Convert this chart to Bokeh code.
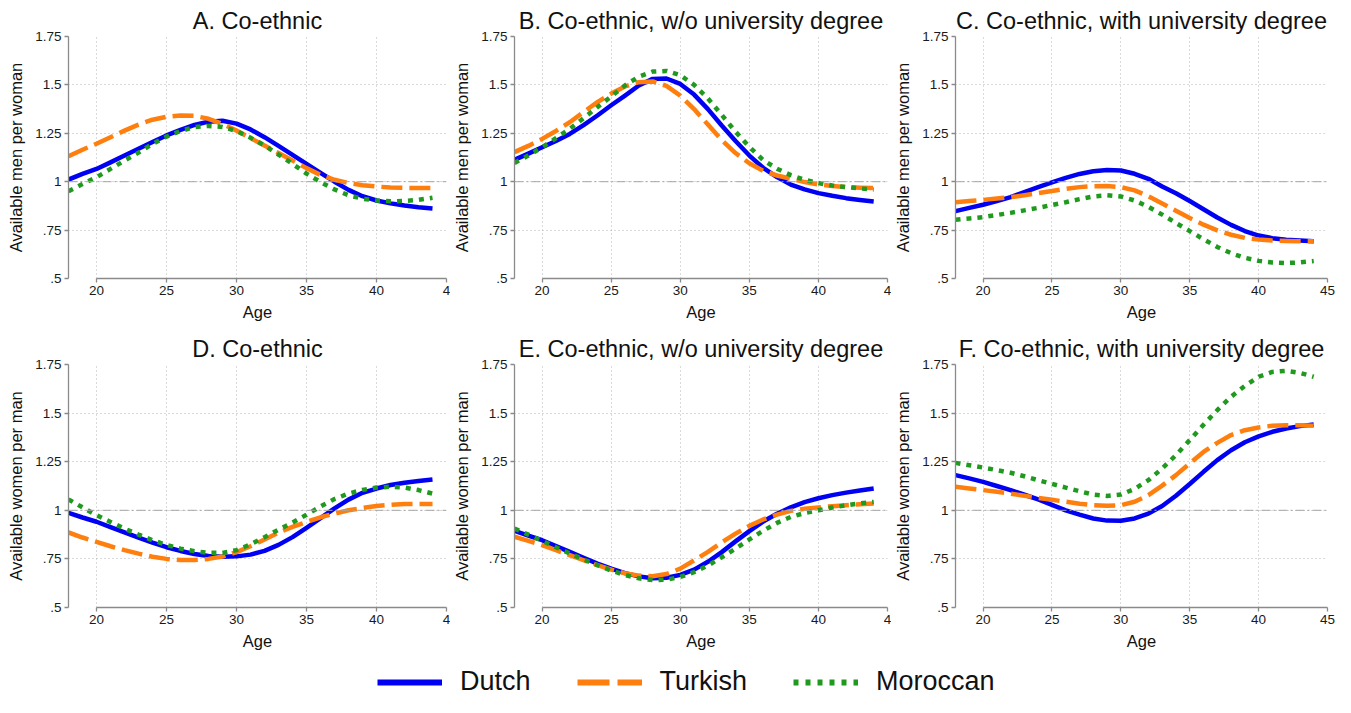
from bokeh.plotting import figure
from bokeh.models import Range1d, FixedTicker, Span, Legend, LegendItem
from bokeh.layouts import column, row
from bokeh.embed import file_html
from bokeh.resources import INLINE

FONT = "Liberation Sans"

age = [18, 19, 20, 21, 22, 23, 24, 25, 26, 27, 28, 29, 30, 31,
       32, 33, 34, 35, 36, 37, 38, 39, 40, 41, 42, 43, 44]

# Panel A: Co-ethnic (men per woman)
a_dutch = [1.011, 1.040, 1.066, 1.100, 1.135, 1.170, 1.205, 1.239, 1.268, 1.293, 1.310, 1.315, 1.300, 1.270,
           1.230, 1.185, 1.138, 1.092, 1.045, 1.000, 0.958, 0.925, 0.903, 0.888, 0.877, 0.868, 0.862]
a_turkish = [1.132, 1.165, 1.196, 1.230, 1.264, 1.295, 1.320, 1.335, 1.342, 1.340, 1.325, 1.298, 1.264, 1.225,
             1.187, 1.148, 1.110, 1.070, 1.035, 1.010, 0.993, 0.982, 0.975, 0.970, 0.968, 0.967, 0.967]
a_moroccan = [0.951, 0.988, 1.023, 1.066, 1.109, 1.150, 1.195, 1.233, 1.262, 1.282, 1.288, 1.283, 1.262, 1.227,
              1.187, 1.140, 1.092, 1.042, 0.998, 0.960, 0.930, 0.912, 0.903, 0.899, 0.900, 0.906, 0.917]

# Panel B: Co-ethnic, w/o university degree (men per woman)
b_dutch = [1.113, 1.145, 1.178, 1.210, 1.247, 1.292, 1.342, 1.395, 1.445, 1.497, 1.531, 1.533, 1.505, 1.450,
           1.375, 1.290, 1.210, 1.135, 1.072, 1.024, 0.985, 0.960, 0.941, 0.927, 0.915, 0.906, 0.898]
b_turkish = [1.153, 1.185, 1.221, 1.262, 1.307, 1.360, 1.411, 1.455, 1.492, 1.514, 1.518, 1.495, 1.445, 1.375,
             1.295, 1.215, 1.148, 1.095, 1.056, 1.032, 1.015, 0.998, 0.986, 0.978, 0.972, 0.969, 0.967]
b_moroccan = [1.097, 1.135, 1.178, 1.225, 1.273, 1.328, 1.385, 1.440, 1.497, 1.543, 1.569, 1.572, 1.550, 1.500,
              1.430, 1.345, 1.258, 1.180, 1.112, 1.067, 1.034, 1.010, 0.993, 0.980, 0.972, 0.965, 0.960]

# Panel C: Co-ethnic, with university degree (men per woman)
c_dutch = [0.848, 0.865, 0.881, 0.900, 0.920, 0.946, 0.972, 0.996, 1.020, 1.040, 1.054, 1.061, 1.058, 1.041,
           1.015, 0.975, 0.940, 0.900, 0.858, 0.815, 0.777, 0.745, 0.722, 0.708, 0.700, 0.696, 0.693]
c_turkish = [0.894, 0.900, 0.906, 0.913, 0.920, 0.930, 0.941, 0.952, 0.963, 0.972, 0.977, 0.978, 0.972, 0.955,
             0.925, 0.888, 0.850, 0.813, 0.778, 0.749, 0.726, 0.710, 0.701, 0.696, 0.694, 0.693, 0.693]
c_moroccan = [0.803, 0.810, 0.817, 0.828, 0.839, 0.852, 0.865, 0.880, 0.894, 0.910, 0.924, 0.930, 0.924, 0.903,
              0.870, 0.830, 0.787, 0.745, 0.703, 0.663, 0.631, 0.607, 0.591, 0.583, 0.580, 0.583, 0.590]

# Panel D: Co-ethnic (women per man)
d_dutch = [0.987, 0.963, 0.941, 0.913, 0.886, 0.860, 0.834, 0.810, 0.791, 0.775, 0.765, 0.761, 0.763, 0.772,
           0.791, 0.822, 0.862, 0.910, 0.960, 1.010, 1.055, 1.090, 1.112, 1.130, 1.142, 1.151, 1.158]
d_turkish = [0.886, 0.860, 0.838, 0.815, 0.795, 0.777, 0.761, 0.750, 0.744, 0.744, 0.750, 0.762, 0.785, 0.815,
             0.850, 0.885, 0.915, 0.940, 0.964, 0.983, 1.000, 1.012, 1.022, 1.028, 1.032, 1.033, 1.033]
d_moroccan = [1.056, 1.015, 0.975, 0.940, 0.906, 0.875, 0.846, 0.822, 0.803, 0.790, 0.781, 0.781, 0.795, 0.825,
              0.862, 0.900, 0.937, 0.977, 1.020, 1.058, 1.086, 1.105, 1.117, 1.121, 1.117, 1.104, 1.086]

# Panel E: Co-ethnic, w/o university degree (women per man)
e_dutch = [0.894, 0.870, 0.846, 0.816, 0.786, 0.756, 0.726, 0.700, 0.677, 0.660, 0.650, 0.653, 0.668, 0.695,
           0.735, 0.785, 0.840, 0.893, 0.942, 0.982, 1.015, 1.042, 1.062, 1.078, 1.091, 1.102, 1.112]
e_turkish = [0.864, 0.843, 0.821, 0.795, 0.769, 0.743, 0.718, 0.695, 0.676, 0.664, 0.661, 0.672, 0.700, 0.742,
             0.786, 0.835, 0.880, 0.920, 0.953, 0.978, 0.997, 1.008, 1.015, 1.021, 1.026, 1.031, 1.035]
e_moroccan = [0.906, 0.875, 0.843, 0.810, 0.778, 0.747, 0.718, 0.690, 0.667, 0.650, 0.641, 0.643, 0.657, 0.682,
              0.716, 0.758, 0.803, 0.850, 0.895, 0.935, 0.966, 0.986, 1.000, 1.014, 1.026, 1.036, 1.043]

# Panel F: Co-ethnic, with university degree (women per man)
f_dutch = [1.181, 1.164, 1.146, 1.125, 1.104, 1.080, 1.056, 1.028, 1.000, 0.978, 0.958, 0.947, 0.946, 0.958,
           0.983, 1.022, 1.075, 1.135, 1.198, 1.258, 1.309, 1.350, 1.380, 1.404, 1.421, 1.433, 1.441]
f_turkish = [1.121, 1.112, 1.104, 1.095, 1.086, 1.075, 1.064, 1.054, 1.044, 1.034, 1.026, 1.023, 1.026, 1.044,
             1.078, 1.127, 1.181, 1.241, 1.300, 1.347, 1.387, 1.412, 1.426, 1.435, 1.438, 1.438, 1.435]
f_moroccan = [1.244, 1.232, 1.220, 1.207, 1.193, 1.175, 1.155, 1.136, 1.117, 1.098, 1.081, 1.074, 1.081, 1.110,
              1.155, 1.215, 1.284, 1.361, 1.440, 1.515, 1.584, 1.640, 1.687, 1.712, 1.717, 1.707, 1.687]

x_ticks = [20, 25, 30, 35, 40, 45]
y_ticks = [0.5, 0.75, 1, 1.25, 1.5, 1.75]
y_tick_labels = [".5", ".75", "1", "1.25", "1.5", "1.75"]
series_names = ["Dutch", "Turkish", "Moroccan"]
titles = ["A. Co-ethnic", "B. Co-ethnic, w/o university degree", "C. Co-ethnic, with university degree",
          "D. Co-ethnic", "E. Co-ethnic, w/o university degree", "F. Co-ethnic, with university degree"]
ylabels = ["Available men per woman"] * 3 + ["Available women per man"] * 3
panel_data = [(a_dutch, a_turkish, a_moroccan), (b_dutch, b_turkish, b_moroccan), (c_dutch, c_turkish, c_moroccan),
              (d_dutch, d_turkish, d_moroccan), (e_dutch, e_turkish, e_moroccan), (f_dutch, f_turkish, f_moroccan)]

COLORS = ["#0000f2", "#ff7f0e", "#1f9a1f"]
DASHES = ["solid", "21 7", "5 6"]
LEG_DASHES = ["solid", "32 8", "5 7"]

# per column: (figure width, left border, right border)
COL_GEOM = [(450, 68, 4), (441, 60, 4), (444, 59, 8)]
ROW_GEOM = [(328, 36, 50), (329, 36, 50)]  # (height, top border, bottom border)


def make_panel(i):
    col = i % 3
    rw = i // 3
    width, left, right = COL_GEOM[col]
    height, top, bottom = ROW_GEOM[rw]
    p = figure(width=width, height=height, x_range=Range1d(18, 45), y_range=Range1d(0.5, 1.75),
               output_backend="svg", toolbar_location=None, tools="",
               min_border_left=left, min_border_right=right, min_border_top=top, min_border_bottom=bottom)
    p.outline_line_color = None
    p.background_fill_color = "white"
    p.border_fill_color = "white"

    p.title.text = titles[i]
    p.title.text_font = FONT
    p.title.text_font_size = "23.5px"
    p.title.text_font_style = "normal"
    p.title.text_color = "#111111"
    p.title.align = "center"
    p.title.standoff = 6

    p.xaxis.ticker = FixedTicker(ticks=x_ticks)
    p.xaxis.bounds = (20, 45)
    if col != 2:
        p.xaxis.major_label_overrides = {45: "4"}
    p.yaxis.ticker = FixedTicker(ticks=y_ticks)
    p.yaxis.major_label_overrides = dict(zip(y_ticks, y_tick_labels))
    p.xaxis.axis_label = "Age"
    p.yaxis.axis_label = ylabels[i]
    for ax in (p.xaxis, p.yaxis):
        ax.axis_line_color = "#8a8a8a"
        ax.axis_line_width = 1.3
        ax.major_tick_line_color = "#8a8a8a"
        ax.major_tick_line_width = 1.3
        ax.major_tick_out = 4
        ax.major_tick_in = 0
        ax.minor_tick_line_color = None
        ax.major_label_text_font = FONT
        ax.major_label_text_font_size = "13.5px"
        ax.major_label_text_color = "#1a1a1a"
        ax.major_label_standoff = 3
        ax.axis_label_text_font = FONT
        ax.axis_label_text_font_size = "16.5px"
        ax.axis_label_text_font_style = "normal"
        ax.axis_label_text_color = "#111111"
    p.xaxis.axis_label_standoff = 5
    p.yaxis.axis_label_standoff = 7

    p.grid.grid_line_color = "#b4b4b4"
    p.grid.grid_line_dash = "1 3"
    p.grid.grid_line_width = 1

    p.add_layout(Span(location=1, dimension="width", line_color="#a6a6a6",
                      line_width=1, line_dash="9 3 2 3"))

    for vals, c, d in zip(panel_data[i], COLORS, DASHES):
        p.line(age, vals, line_color=c, line_width=4.5, line_dash=d,
               line_join="round", line_cap="butt")
    return p


panels = [make_panel(i) for i in range(6)]

# legend strip: its renderers carry the panel-A series, which lie outside this strip's ranges
leg = figure(width=1335, height=40, x_range=Range1d(0, 1), y_range=Range1d(0, 1),
             output_backend="svg", toolbar_location=None, tools="",
             x_axis_type=None, y_axis_type=None, min_border=0)
leg.outline_line_color = None
leg.grid.visible = False
items = []
for name, vals, c, d in zip(series_names, panel_data[0], COLORS, LEG_DASHES):
    r = leg.line(age, vals, line_color=c, line_width=6, line_dash=d, line_cap="butt")
    items.append(LegendItem(label=name, renderers=[r]))
legend = Legend(items=items, orientation="horizontal", location=(377, 0),
                glyph_width=65, glyph_height=30, label_height=30, label_standoff=18,
                spacing=46, padding=0, margin=0, border_line_alpha=0,
                background_fill_alpha=0, label_text_font=FONT,
                label_text_font_size="27px", label_text_color="#111111")
leg.add_layout(legend)

layout = column(row(*panels[:3]), row(*panels[3:]), leg)

open("out.html", "w").write(file_html(layout, INLINE, "Available partners"))
